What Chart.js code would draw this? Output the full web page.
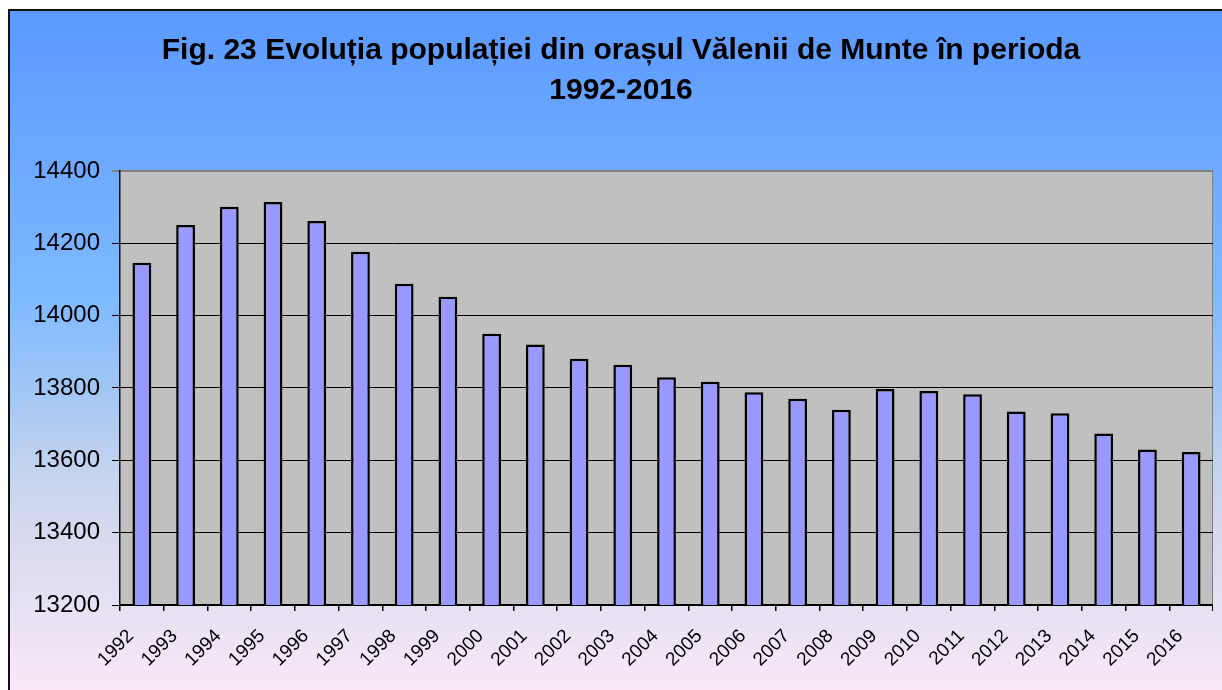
<!DOCTYPE html>
<html>
<head>
<meta charset="utf-8">
<script src="https://cdn.jsdelivr.net/npm/chart.js@4/dist/chart.umd.min.js"></script>
<style>
  html, body {
    margin: 0;
    padding: 0;
    width: 1222px;
    height: 690px;
    overflow: hidden;
    background: #ffffff;
  }
  .frame {
    position: absolute;
    left: 8px;
    top: 9px;
    width: 1240px;
    height: 700px;
    border-left: 2px solid #111;
    border-top: 2px solid #111;
    background: linear-gradient(to bottom,
      #5a9aff 0px,
      #6eaaff 160px,
      #80baff 290px,
      #a6c8f4 390px,
      #c4d4ee 460px,
      #d9daef 530px,
      #e9e2f4 610px,
      #fae8f8 680px);
  }
  #chart {
    position: absolute;
    left: 29px;
    top: 0;
  }
</style>
</head>
<body>
<div class="frame"></div>
<canvas id="chart" width="1184" height="690"></canvas>
<script>
const years = ["1992", "1993", "1994", "1995", "1996", "1997", "1998", "1999", "2000", "2001", "2002", "2003", "2004",
  "2005", "2006", "2007", "2008", "2009", "2010", "2011", "2012", "2013", "2014", "2015", "2016"];
const population = [14146, 14251, 14301, 14314, 14262, 14177, 14088, 14052, 13950, 13920, 13881, 13864, 13830,
  13817, 13788, 13770, 13740, 13797, 13792, 13783, 13735, 13730, 13674, 13630, 13623];
const yMin = 13200;
const yMax = 14400;
const yStep = 200;

const titleLines = ["Fig. 23 Evoluția populației din orașul Vălenii de Munte în perioda", "1992-2016"];
const fontFamily = "'Liberation Sans', Arial, sans-serif";

// gray plot area with its top/right frame, drawn before grid and bars
const plotBackground = {
  id: "plotBackground",
  beforeDraw(chart) {
    const { ctx, chartArea: a } = chart;
    ctx.save();
    ctx.fillStyle = "#c0c0c0";
    ctx.fillRect(a.left, a.top, a.right - a.left, a.bottom - a.top);
    ctx.strokeStyle = "#808080";
    ctx.lineWidth = 2;
    ctx.beginPath();
    ctx.moveTo(a.left, a.top);
    ctx.lineTo(a.right, a.top);
    ctx.lineTo(a.right, a.bottom);
    ctx.stroke();
    ctx.restore();
  }
};

new Chart(document.getElementById("chart"), {
  type: "bar",
  data: {
    labels: years,
    datasets: [{
      data: population,
      backgroundColor: "#9999ff",
      borderColor: "#000000",
      borderWidth: 2.5,
      borderSkipped: "start",
      categoryPercentage: 1,
      barPercentage: 0.43
    }]
  },
  options: {
    responsive: false,
    animation: false,
    layout: { padding: 0 },
    plugins: {
      legend: { display: false },
      tooltip: { enabled: false },
      title: {
        display: true,
        text: titleLines,
        color: "#000",
        font: { family: fontFamily, size: 30, weight: "bold", lineHeight: 1.3333 },
        padding: { top: 31, bottom: 60 }
      }
    },
    scales: {
      x: {
        grid: {
          offset: true,
          drawOnChartArea: false,
          drawTicks: true,
          tickLength: 6,
          color: "#000",
          lineWidth: 1.5
        },
        border: { display: true, color: "#000", width: 2 },
        ticks: {
          color: "#000",
          font: { family: fontFamily, size: 19 },
          minRotation: 45,
          maxRotation: 45,
          autoSkip: false,
          padding: 14,
          labelOffset: -11
        },
        afterFit(scale) {
          scale.height = 85;
          scale.paddingLeft = 0;
          scale.paddingRight = 0;
        }
      },
      y: {
        min: yMin,
        max: yMax,
        grid: {
          color: (c) => (c.tick && c.tick.value === yMax ? "#808080" : "#000"),
          lineWidth: (c) => (c.tick && c.tick.value === yMax ? 2 : 1),
          drawTicks: true,
          tickLength: 8
        },
        border: { display: true, color: "#111", width: 1.5 },
        ticks: {
          stepSize: yStep,
          color: "#000",
          padding: 12,
          font: { family: fontFamily, size: 24 },
          callback: (value) => String(value)
        },
        afterFit(scale) {
          scale.width = 91;
        }
      }
    }
  },
  plugins: [plotBackground]
});
</script>
</body>
</html>
